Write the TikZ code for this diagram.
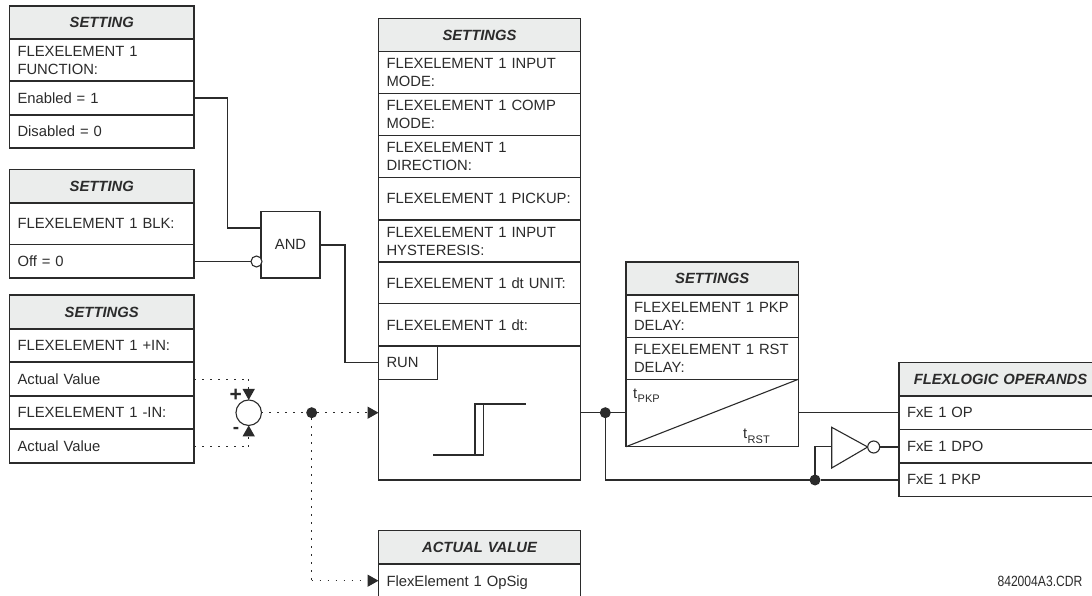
\documentclass[tikz,border=0pt]{standalone}
\usepackage{fontspec}
\setmainfont{Liberation Sans}
\usetikzlibrary{arrows.meta,calc}
\definecolor{ink}{HTML}{2B2B2B}
\definecolor{headfill}{HTML}{EBEDEC}
\tikzset{
  wire/.style={draw=ink,line width=1.1pt},
  dotwire/.style={draw=ink,line width=1.5pt,dash pattern=on 1.5pt off 6.5pt},
  tip/.style={-{Triangle[length=11pt,width=12pt]}},
  cellbox/.style={draw=ink,line width=1.1pt,rectangle,inner xsep=8pt,inner ysep=0pt,outer sep=0pt,anchor=north west,
    text=ink,align=left,font=\fontsize{14.8}{18}\selectfont},
  headbox/.style={cellbox,fill=headfill,align=center,font=\fontsize{14.8}{18}\selectfont\bfseries\itshape},
  bubble/.style={draw=ink,line width=1.1pt,circle,fill=white,inner sep=0pt,outer sep=0pt},
  blackdot/.style={circle,fill=ink,inner sep=0pt,outer sep=0pt,minimum size=11pt},
  plainlabel/.style={text=ink,inner sep=0pt,font=\fontsize{14.8}{18}\selectfont},
  sublabel/.style={text=ink,inner sep=0pt,font=\fontsize{11}{12}\selectfont},
}
% name, style, x, y top, width, height, text
\newcommand{\cellat}[7]{%
  \pgfmathsetlengthmacro{\cellw}{#5*1pt}%
  \pgfmathsetlengthmacro{\cellh}{#6*1pt}%
  \pgfmathsetlengthmacro{\celltw}{(#5-16)*1pt}%
  \node[#2,minimum width=\cellw,minimum height=\cellh,text width=\celltw] (#1) at (#3,#4) {#7};}
\begin{document}
\begin{tikzpicture}[x=1pt,y=-1pt]
\useasboundingbox (0,0) rectangle (1092,596);
\fill[white] (0,0) rectangle (1092,596);

% Function setting
\cellat{aH}{headbox}{9.5}{6}{184.5}{33}{SETTING}
\cellat{aF}{cellbox}{9.5}{39}{184.5}{42}{FLEXELEMENT 1\\FUNCTION:}
\cellat{aE}{cellbox}{9.5}{81}{184.5}{34}{Enabled = 1}
\cellat{aD}{cellbox}{9.5}{115}{184.5}{33}{Disabled = 0}

% Block setting
\cellat{bH}{headbox}{9.5}{169.5}{184.5}{33.5}{SETTING}
\cellat{bB}{cellbox}{9.5}{203}{184.5}{41.5}{FLEXELEMENT 1 BLK:}
\cellat{bO}{cellbox}{9.5}{244.5}{184.5}{33.5}{Off = 0}

% Inputs
\cellat{cH}{headbox}{9.5}{295}{184.5}{34}{SETTINGS}
\cellat{cP}{cellbox}{9.5}{329}{184.5}{33}{FLEXELEMENT 1 +IN:}
\cellat{cA}{cellbox}{9.5}{362}{184.5}{34}{Actual Value}
\cellat{cM}{cellbox}{9.5}{396}{184.5}{33}{FLEXELEMENT 1 -IN:}
\cellat{cB}{cellbox}{9.5}{429}{184.5}{34}{Actual Value}

% AND
\node[draw=ink,line width=1.1pt,rectangle,minimum width=59pt,minimum height=66.5pt,anchor=north west,
  text=ink,font=\fontsize{14.8}{18}\selectfont,inner sep=0pt,outer sep=0pt] (and) at (261,211.5) {AND};
\coordinate (andin) at (261,228);
\node[bubble,minimum size=11pt] (andneg) at (256.5,261.5) {};

% Main settings
\cellat{dH}{headbox}{378.5}{18.7}{202}{33}{SETTINGS}
\cellat{d1}{cellbox}{378.5}{51.7}{202}{41.5}{FLEXELEMENT 1 INPUT\\MODE:}
\cellat{d2}{cellbox}{378.5}{93.2}{202}{42}{FLEXELEMENT 1 COMP\\MODE:}
\cellat{d3}{cellbox}{378.5}{135.2}{202}{42.3}{FLEXELEMENT 1\\DIRECTION:}
\cellat{d4}{cellbox}{378.5}{177.5}{202}{42.5}{FLEXELEMENT 1 PICKUP:}
\cellat{d5}{cellbox}{378.5}{220}{202}{42}{FLEXELEMENT 1 INPUT\\HYSTERESIS:}
\cellat{d6}{cellbox}{378.5}{262}{202}{41.5}{FLEXELEMENT 1 dt UNIT:}
\cellat{d7}{cellbox}{378.5}{303.5}{202}{42.5}{FLEXELEMENT 1 dt:}
\cellat{d8}{cellbox}{378.5}{346}{202}{134}{}
\cellat{run}{cellbox}{378.5}{346}{59}{33.5}{RUN}
\coordinate (stepa) at (433,455);
\coordinate (stepb) at (483.5,455);
\coordinate (stepc) at (483.5,404);
\coordinate (stepd) at (475,404);
\coordinate (stepe) at (475,455);
\coordinate (stepf) at (525.7,404);
\draw[wire] (stepa) -- (stepb) -- (stepc);
\draw[wire] (stepe) -- (stepd) -- (stepf);

% Timer
\cellat{tH}{headbox}{626}{262}{172.3}{33}{SETTINGS}
\cellat{t1}{cellbox}{626}{295}{172.3}{42.3}{FLEXELEMENT 1 PKP\\DELAY:}
\cellat{t2}{cellbox}{626}{337.3}{172.3}{42}{FLEXELEMENT 1 RST\\DELAY:}
\cellat{t3}{cellbox}{626}{379.3}{172.3}{67.4}{}
\draw[wire] (t3.south west) -- (t3.north east);
\node[plainlabel,anchor=base west] (tp) at (633,398) {t};
\node[sublabel,anchor=base west] (tps) at ($(tp.base east)+(0,4)$) {PKP};
\node[plainlabel,anchor=base west] (tr) at (743,438) {t};
\node[sublabel,anchor=base west] (trs) at ($(tr.base east)+(0,5)$) {RST};

% Operands (cut off by the right edge)
\cellat{oH}{headbox}{899}{362.7}{203}{33.3}{FLEXLOGIC OPERANDS}
\cellat{oA}{cellbox}{899}{396}{203}{33.3}{FxE 1 OP}
\cellat{oB}{cellbox}{899}{429.3}{203}{33.7}{FxE 1 DPO}
\cellat{oC}{cellbox}{899}{463}{203}{33.7}{FxE 1 PKP}

% Actual value (cut off by the bottom edge)
\cellat{vH}{headbox}{378.5}{530.7}{202}{33.3}{ACTUAL VALUE}
\cellat{vA}{cellbox}{378.5}{564}{202}{50}{\raisebox{16pt}{FlexElement 1 OpSig}}

% Summing point
\node[draw=ink,line width=1.1pt,circle,minimum size=25.5pt,inner sep=0pt,outer sep=0pt] (sum) at (248.7,412.7) {};
\node[text=ink,inner sep=0pt,font=\fontsize{21}{22}\selectfont\bfseries] (plus) at (235.7,395) {+};
\node[text=ink,inner sep=0pt,font=\fontsize{19}{20}\selectfont\bfseries] (minus) at (236,430.5) {-};
\coordinate (sumtopin) at (248.7,379.3);
\coordinate (sumbotin) at (248.7,446.7);
\node[blackdot] (fork) at (311.7,412.7) {};
\coordinate (d8in) at (378.5,412.7);
\coordinate (forkcorner) at (311.7,580.7);
\coordinate (vin) at (378.5,580.7);

\draw[dotwire] (194,379.3) -- (sumtopin);
\draw[dotwire] (194,446.7) -- (sumbotin);
\draw[dotwire,tip] (sumtopin) -- (sum.north);
\draw[dotwire,tip] (sumbotin) -- (sum.south);
\draw[dotwire] (sum.east) -- (fork);
\draw[dotwire,tip] (fork) -- (d8in);
\draw[dotwire] (fork) -- (forkcorner);
\draw[dotwire,tip] (forkcorner) -- (vin);

% Solid connectors
\draw[wire] (aE.east) -- ++(33.5,0) |- (andin);
\draw[wire] (bO.east |- andneg) -- (andneg.west);
\coordinate (andout) at (320,245);
\coordinate (runin) at (378.5,362.7);
\draw[wire] (andout) -- (345,245) |- (runin);

\coordinate (d8out) at (580.5,412.7);
\coordinate (t3in) at (626,412.7);
\coordinate (t3out) at (798.3,412.7);
\node[blackdot] (tfork) at (605.3,412.7) {};
\node[blackdot] (ifork) at (815,480) {};
\draw[wire] (d8out) -- (t3in);
\draw[wire] (tfork) |- (ifork);
\draw[wire] (ifork) -- (899,480);
\draw[wire] (t3out) -- (899,412.7);

% Inverter
\coordinate (inva) at (831.7,427.3);
\coordinate (invb) at (831.7,468);
\coordinate (invc) at (867.7,447);
\draw[wire] (inva) -- (invc) -- (invb) -- cycle;
\node[bubble,minimum size=12pt] (invneg) at (873.7,447) {};
\draw[wire] (ifork) |- (831.7,446.7);
\draw[wire] (invneg.east) -- (899,447);

% Drawing number
\node[text=ink,inner sep=0pt,anchor=base east,font=\fontsize{14.8}{18}\selectfont] (dwg) at (1082.7,586.5) {\scalebox{.82}[1]{842004A3.CDR}};
\end{tikzpicture}
\end{document}
